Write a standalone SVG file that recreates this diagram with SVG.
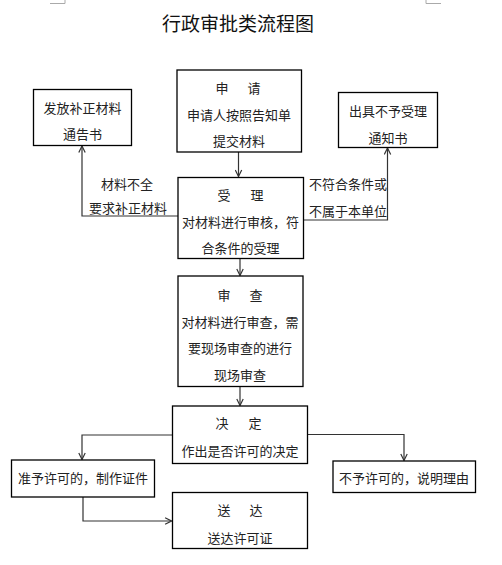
<svg xmlns="http://www.w3.org/2000/svg" width="502" height="565" viewBox="0 0 502 565">
<defs>
<style>
.box{fill:#fff;stroke:#000;stroke-width:1.3}
.t{font-family:"Noto Sans CJK SC","Noto Sans CJK JP",sans-serif;font-size:13px;fill:#222;text-anchor:middle;dominant-baseline:central}
.title{font-family:"Noto Sans CJK SC",sans-serif;font-size:19px;fill:#111;text-anchor:middle}
.c{fill:none;stroke:#333;stroke-width:1.2}
.mark{fill:none;stroke:#aaa;stroke-width:1}
</style>
<marker id="ah" viewBox="0 0 10 10" refX="9" refY="5" markerWidth="8" markerHeight="8" markerUnits="userSpaceOnUse" orient="auto">
<path d="M1,1 L9,5 L1,9" fill="none" stroke="#333" stroke-width="1.5"/>
</marker>
</defs>
<rect width="502" height="565" fill="#fff"/>
<path class="mark" d="M65,0 V3.5 H50 M426,0 V3.5 H441"/>
<text class="title" x="238" y="31">行政审批类流程图</text>

<g id="connectors">
<path class="c" d="M238.5,152 V176.5" marker-end="url(#ah)"/>
<path class="c" d="M178,216 H82 V146" marker-end="url(#ah)"/>
<path class="c" d="M303,220 H387.5 V148" marker-end="url(#ah)"/>
<path class="c" d="M240,258.5 V275.5" marker-end="url(#ah)"/>
<path class="c" d="M240,387 V405.5" marker-end="url(#ah)"/>
<path class="c" d="M172,435 H82 V459.5" marker-end="url(#ah)"/>
<path class="c" d="M307,434.5 H404 V460.5" marker-end="url(#ah)"/>
<path class="c" d="M83,497 V521 H171.5" marker-end="url(#ah)"/>
<text class="t" x="127" y="183">材料不全</text>
<text class="t" x="128" y="207">要求补正材料</text>
<text class="t" x="348" y="183">不符合条件或</text>
<text class="t" x="348" y="210">不属于本单位</text>
</g>

<g id="apply">
<rect class="box" x="177" y="70" width="124.5" height="82"/>
<text class="t" x="222 254" y="87">申请</text>
<text class="t" x="239" y="114">申请人按照告知单</text>
<text class="t" x="239" y="140">提交材料</text>
</g>

<g id="supplement">
<rect class="box" x="33.5" y="89.5" width="98" height="56"/>
<text class="t" x="82.5" y="107">发放补正材料</text>
<text class="t" x="82.5" y="133">通告书</text>
</g>

<g id="reject">
<rect class="box" x="338.5" y="92.5" width="99" height="55"/>
<text class="t" x="388" y="110">出具不予受理</text>
<text class="t" x="388" y="137">通知书</text>
</g>

<g id="accept">
<rect class="box" x="178" y="177.5" width="125.5" height="81"/>
<text class="t" x="224 257" y="194">受理</text>
<text class="t" x="240.5" y="221">对材料进行审核，符</text>
<text class="t" x="240.5" y="247">合条件的受理</text>
</g>

<g id="review">
<rect class="box" x="178" y="276" width="125" height="110.5"/>
<text class="t" x="224 256" y="294">审查</text>
<text class="t" x="240" y="321">对材料进行审查，需</text>
<text class="t" x="240" y="347">要现场审查的进行</text>
<text class="t" x="240" y="374">现场审查</text>
</g>

<g id="decide">
<rect class="box" x="172.5" y="406" width="135" height="57.5"/>
<text class="t" x="222 255" y="422">决定</text>
<text class="t" x="240" y="450">作出是否许可的决定</text>
</g>

<g id="grant">
<rect class="box" x="11.5" y="460" width="143" height="37"/>
<text class="t" x="83" y="477.5">准予许可的，制作证件</text>
</g>

<g id="deny">
<rect class="box" x="333" y="461" width="142.5" height="31.5"/>
<text class="t" x="404" y="477">不予许可的，说明理由</text>
</g>

<g id="deliver">
<rect class="box" x="172.5" y="492.5" width="135" height="56"/>
<text class="t" x="224 256" y="509">送达</text>
<text class="t" x="240" y="537">送达许可证</text>
</g>
</svg>
